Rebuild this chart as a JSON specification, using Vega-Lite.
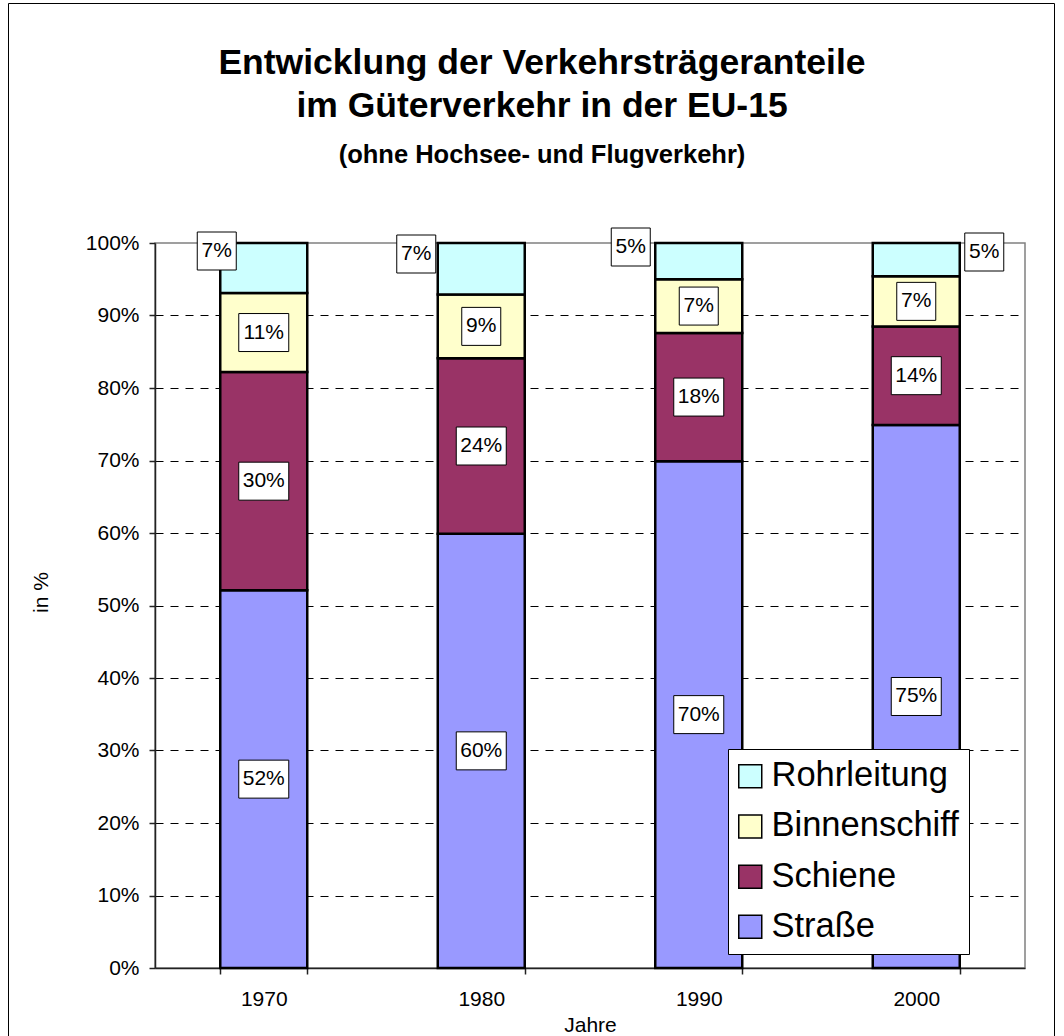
{
  "$schema": "https://vega.github.io/schema/vega-lite/v6.json",
  "width": 870,
  "height": 725,
  "autosize": {"type": "none"},
  "padding": {"left": 155, "top": 243, "right": 39, "bottom": 68},
  "background": "white",
  "title": {
    "text": ["Entwicklung der Verkehrsträgeranteile", "im Güterverkehr in der EU-15"],
    "subtitle": "(ohne Hochsee- und Flugverkehr)",
    "fontSize": 35.5,
    "fontWeight": "bold",
    "lineHeight": 43,
    "subtitleFontSize": 25.5,
    "subtitleFontWeight": "bold",
    "subtitlePadding": 18.5,
    "subtitleColor": "black",
    "color": "black",
    "anchor": "middle",
    "frame": "group",
    "dx": -48,
    "offset": -166
  },
  "data": {
    "values": [
      {"year": "1970", "mode": "Straße", "value": 52.1},
      {"year": "1970", "mode": "Schiene", "value": 30.1},
      {"year": "1970", "mode": "Binnenschiff", "value": 10.9},
      {"year": "1970", "mode": "Rohrleitung", "value": 6.9},
      {"year": "1980", "mode": "Straße", "value": 59.9},
      {"year": "1980", "mode": "Schiene", "value": 24.2},
      {"year": "1980", "mode": "Binnenschiff", "value": 8.8},
      {"year": "1980", "mode": "Rohrleitung", "value": 7.1},
      {"year": "1990", "mode": "Straße", "value": 69.9},
      {"year": "1990", "mode": "Schiene", "value": 17.7},
      {"year": "1990", "mode": "Binnenschiff", "value": 7.4},
      {"year": "1990", "mode": "Rohrleitung", "value": 5.0},
      {"year": "2000", "mode": "Straße", "value": 74.9},
      {"year": "2000", "mode": "Schiene", "value": 13.6},
      {"year": "2000", "mode": "Binnenschiff", "value": 6.9},
      {"year": "2000", "mode": "Rohrleitung", "value": 4.6}
    ]
  },
  "transform": [
    {"calculate": "indexof(['Straße','Schiene','Binnenschiff','Rohrleitung'], datum.mode)", "as": "ord"},
    {"stack": "value", "groupby": ["year"], "sort": [{"field": "ord", "order": "ascending"}], "as": ["v0", "v1"]},
    {"calculate": "(datum.v0 + datum.v1) / 2", "as": "mid"},
    {"calculate": "format(datum.value, '.0f') + '%'", "as": "label"}
  ],
  "layer": [
    {
      "mark": {"type": "bar", "stroke": "black", "strokeWidth": 2.5},
      "encoding": {
        "x": {
          "field": "year", "type": "nominal",
          "scale": {"paddingInner": 0.6, "paddingOuter": 0.3},
          "axis": {
            "title": "Jahre", "labelAngle": 0, "tickBand": "extent", "tickSize": 6,
            "labelPadding": 14, "titlePadding": 5, "grid": false
          }
        },
        "y": {
          "field": "v1", "type": "quantitative",
          "scale": {"domain": [0, 100], "nice": false},
          "axis": {
            "title": "in %",
            "values": [0, 10, 20, 30, 40, 50, 60, 70, 80, 90, 100],
            "labelExpr": "datum.value + '%'",
            "grid": true,
            "gridColor": "black",
            "gridDash": [8, 7],
            "gridOpacity": {"condition": {"test": "datum.value == 0 || datum.value == 100", "value": 0}, "value": 1},
            "tickSize": 6,
            "labelPadding": 10,
            "titleX": -114,
            "titleY": 349,
            "titleAngle": 270,
            "titleAlign": "center",
            "titleBaseline": "middle"
          }
        },
        "y2": {"field": "v0"},
        "color": {
          "field": "mode", "type": "nominal",
          "scale": {
            "domain": ["Rohrleitung", "Binnenschiff", "Schiene", "Straße"],
            "range": ["#CCFFFF", "#FFFFCC", "#993366", "#9999FF"]
          },
          "legend": {
            "title": null,
            "orient": "none",
            "legendX": 573,
            "legendY": 506,
            "fillColor": "white",
            "strokeColor": "black",
            "padding": 10,
            "symbolType": "square",
            "symbolSize": 529,
            "symbolStrokeColor": "black",
            "symbolStrokeWidth": 1.5,
            "symbolOpacity": 1,
            "symbolOffset": -5,
            "labelFontSize": 34.5,
            "labelColor": "black",
            "labelOffset": 4,
            "labelLimit": 400,
            "rowPadding": 15.2
          }
        }
      }
    },
    {
      "mark": {"type": "point", "opacity": 0, "filled": true},
      "encoding": {
        "x": {"field": "year", "type": "nominal"},
        "y": {"field": "v1", "type": "quantitative"},
        "fill": {
          "field": "value", "type": "quantitative",
          "scale": {"range": ["transparent", "transparent"]},
          "legend": {
            "title": null,
            "type": "gradient",
            "direction": "horizontal",
            "orient": "none",
            "legendX": -147,
            "legendY": -240,
            "gradientLength": 1046,
            "gradientThickness": 1045,
            "gradientStrokeWidth": 0,
            "values": [],
            "labelOpacity": 0,
            "padding": 0,
            "strokeColor": "black"
          }
        }
      }
    },
    {
      "transform": [{"filter": "datum.mode != 'Rohrleitung' && datum.value >= 9.5"}],
      "mark": {"type": "point", "shape": "M-25,-19H25V19H-25Z", "size": 4, "filled": true, "fill": "white", "stroke": "black", "strokeWidth": 1, "opacity": 1},
      "encoding": {
        "x": {"field": "year", "type": "nominal"},
        "y": {"field": "mid", "type": "quantitative"}
      }
    },
    {
      "transform": [{"filter": "datum.mode != 'Rohrleitung' && datum.value < 9.5"}],
      "mark": {"type": "point", "shape": "M-19.5,-19H19.5V19H-19.5Z", "size": 4, "filled": true, "fill": "white", "stroke": "black", "strokeWidth": 1, "opacity": 1},
      "encoding": {
        "x": {"field": "year", "type": "nominal"},
        "y": {"field": "mid", "type": "quantitative"}
      }
    },
    {
      "transform": [{"filter": "datum.mode != 'Rohrleitung'"}],
      "mark": {"type": "text", "fontSize": 21, "color": "black", "align": "center", "baseline": "middle"},
      "encoding": {
        "x": {"field": "year", "type": "nominal"},
        "y": {"field": "mid", "type": "quantitative"},
        "text": {"field": "label"}
      }
    },
    {
      "transform": [{"filter": "datum.mode == 'Rohrleitung'"}],
      "mark": {"type": "point", "size": 4, "filled": true, "fill": "white", "stroke": "black", "strokeWidth": 1, "opacity": 1},
      "encoding": {
        "x": {"field": "year", "type": "nominal"},
        "y": {"field": "v1", "type": "quantitative"},
        "shape": {
          "field": "year", "type": "nominal",
          "scale": {
            "domain": ["1970", "1980", "1990", "2000"],
            "range": [
              "M-66.5,-11H-27.5V27H-66.5Z",
              "M-84.5,-8H-45.5V30H-84.5Z",
              "M-87.5,-15H-48.5V23H-87.5Z",
              "M48.5,-10H87.5V28H48.5Z"
            ]
          },
          "legend": null
        }
      }
    },
    {
      "transform": [{"filter": "datum.mode == 'Rohrleitung' && datum.year == '1970'"}],
      "mark": {"type": "text", "fontSize": 21, "color": "black", "align": "center", "baseline": "middle", "dx": -47, "dy": 8},
      "encoding": {
        "x": {"field": "year", "type": "nominal"},
        "y": {"field": "v1", "type": "quantitative"},
        "text": {"field": "label"}
      }
    },
    {
      "transform": [{"filter": "datum.mode == 'Rohrleitung' && datum.year == '1980'"}],
      "mark": {"type": "text", "fontSize": 21, "color": "black", "align": "center", "baseline": "middle", "dx": -65, "dy": 11},
      "encoding": {
        "x": {"field": "year", "type": "nominal"},
        "y": {"field": "v1", "type": "quantitative"},
        "text": {"field": "label"}
      }
    },
    {
      "transform": [{"filter": "datum.mode == 'Rohrleitung' && datum.year == '1990'"}],
      "mark": {"type": "text", "fontSize": 21, "color": "black", "align": "center", "baseline": "middle", "dx": -68, "dy": 4},
      "encoding": {
        "x": {"field": "year", "type": "nominal"},
        "y": {"field": "v1", "type": "quantitative"},
        "text": {"field": "label"}
      }
    },
    {
      "transform": [{"filter": "datum.mode == 'Rohrleitung' && datum.year == '2000'"}],
      "mark": {"type": "text", "fontSize": 21, "color": "black", "align": "center", "baseline": "middle", "dx": 68, "dy": 9},
      "encoding": {
        "x": {"field": "year", "type": "nominal"},
        "y": {"field": "v1", "type": "quantitative"},
        "text": {"field": "label"}
      }
    }
  ],
  "config": {
    "font": "Liberation Sans",
    "view": {"stroke": "#808080", "strokeWidth": 1.5},
    "axis": {
      "labelFontSize": 21,
      "labelColor": "black",
      "titleFontSize": 21,
      "titleFontWeight": "normal",
      "titleColor": "black",
      "domainColor": "#222222",
      "domainWidth": 1.5,
      "tickColor": "#222222",
      "tickWidth": 1.5
    }
  }
}
